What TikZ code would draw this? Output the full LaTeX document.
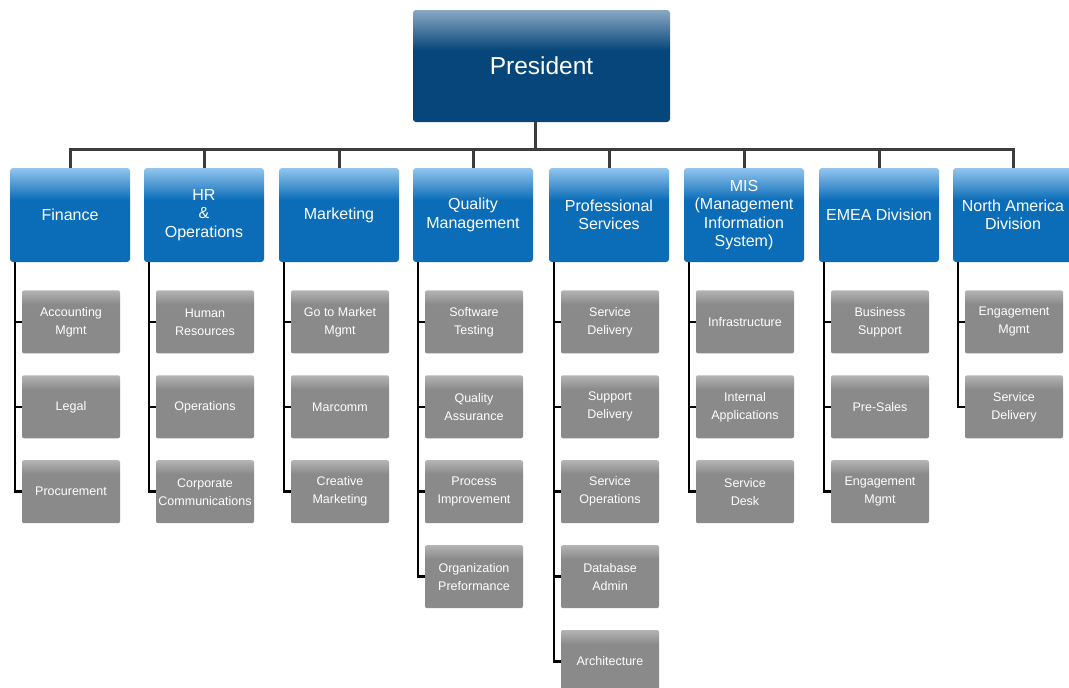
\documentclass[tikz,border=0pt]{standalone}
\usepackage{fontspec}
\setmainfont{Liberation Sans}
\usetikzlibrary{positioning}
\definecolor{presblue}{HTML}{07467A}
\definecolor{presglow}{HTML}{8AA8C4}
\definecolor{deptblue}{HTML}{0B6DB8}
\definecolor{deptglow}{HTML}{92C6EE}
\definecolor{unitgray}{HTML}{8A8A8A}
\definecolor{unitglow}{HTML}{B4B4B4}
\definecolor{busgray}{HTML}{3C3C3C}
\pgfdeclareverticalshading{presshade}{100bp}{color(0bp)=(presblue); color(57bp)=(presblue); color(75bp)=(presglow); color(100bp)=(presglow)}
\pgfdeclareverticalshading{deptshade}{100bp}{color(0bp)=(deptblue); color(58bp)=(deptblue); color(75bp)=(deptglow); color(100bp)=(deptglow)}
\pgfdeclareverticalshading{unitshade}{100bp}{color(0bp)=(unitgray); color(64bp)=(unitgray); color(75bp)=(unitglow); color(100bp)=(unitglow)}

\begin{document}
\begin{tikzpicture}[x=1pt,y=-1pt,node distance=21.5pt,
  pres/.style={shading=presshade,rounded corners=3pt,text=white,minimum width=257pt,minimum height=112pt,font=\fontsize{24.5}{28}\selectfont},
  dept/.style={shading=deptshade,rounded corners=3pt,text=white,align=center,minimum width=120pt,minimum height=94pt,font=\fontsize{16}{18.5}\selectfont},
  unit/.style={shading=unitshade,rounded corners=2pt,text=white,align=center,minimum width=98pt,minimum height=63pt,inner sep=1pt,font=\fontsize{12.5}{18}\selectfont},
  bus/.style={draw=busgray,line width=3pt},
  tie/.style={draw=black,line width=2.5pt}]
\useasboundingbox (0,0) rectangle (1069,688);

% top of the chart
\node[pres] (pres) at (541.5,66) {President};

% departments
\node[dept] (fin) at (70,215) {Finance};
\node[dept] (hr) at (204,215) {HR\\\&\\Operations};
\node[dept] (mkt) at (339,215) {Marketing};
\node[dept] (qm) at (473,215) {Quality\\Management};
\node[dept] (ps) at (609,215) {Professional\\Services};
\node[dept] (mis) at (744,215) {MIS\\(Management\\Information\\System)};
\node[dept] (emea) at (879,215) {EMEA Division};
\node[dept] (na) at (1013,215) {North America\\Division};

% units below each department
\node[unit,below=28pt of fin,xshift=1pt] (fin1) {Accounting\\Mgmt};
\node[unit,below=of fin1] (fin2) {Legal};
\node[unit,below=of fin2] (fin3) {Procurement};

\node[unit,below=28pt of hr,xshift=1pt] (hr1) {Human\\Resources};
\node[unit,below=of hr1] (hr2) {Operations};
\node[unit,below=of hr2] (hr3) {Corporate\\Communications};

\node[unit,below=28pt of mkt,xshift=1pt] (mkt1) {Go to Market\\Mgmt};
\node[unit,below=of mkt1] (mkt2) {Marcomm};
\node[unit,below=of mkt2] (mkt3) {Creative\\Marketing};

\node[unit,below=28pt of qm,xshift=1pt] (qm1) {Software\\Testing};
\node[unit,below=of qm1] (qm2) {Quality\\Assurance};
\node[unit,below=of qm2] (qm3) {Process\\Improvement};
\node[unit,below=of qm3] (qm4) {Organization\\Preformance};

\node[unit,below=28pt of ps,xshift=1pt] (ps1) {Service\\Delivery};
\node[unit,below=of ps1] (ps2) {Support\\Delivery};
\node[unit,below=of ps2] (ps3) {Service\\Operations};
\node[unit,below=of ps3] (ps4) {Database\\Admin};
\node[unit,below=of ps4] (ps5) {Architecture};

\node[unit,below=28pt of mis,xshift=1pt] (mis1) {Infrastructure};
\node[unit,below=of mis1] (mis2) {Internal\\Applications};
\node[unit,below=of mis2] (mis3) {Service\\Desk};

\node[unit,below=28pt of emea,xshift=1pt] (emea1) {Business\\Support};
\node[unit,below=of emea1] (emea2) {Pre-Sales};
\node[unit,below=of emea2] (emea3) {Engagement\\Mgmt};

\node[unit,below=28pt of na,xshift=1pt] (na1) {Engagement\\Mgmt};
\node[unit,below=of na1] (na2) {Service\\Delivery};

% connectors
\coordinate (bus) at (535,149);
\draw[bus] ([xshift=-6pt]pres.south) -- ([xshift=-6pt]pres.south |- bus);
\draw[bus,line cap=rect] (fin.north |- bus) -- (na.north |- bus);
\foreach \d in {fin,hr,mkt,qm,ps,mis,emea,na}
  \draw[bus] (\d.north) -- (\d.north |- bus);
\foreach \d/\n in {fin/3,hr/3,mkt/3,qm/4,ps/5,mis/3,emea/3,na/2}
  \foreach \i in {1,...,\n}
    \draw[tie] ([xshift=5pt]\d.south west) |- (\d\i.west);
\end{tikzpicture}
\end{document}
